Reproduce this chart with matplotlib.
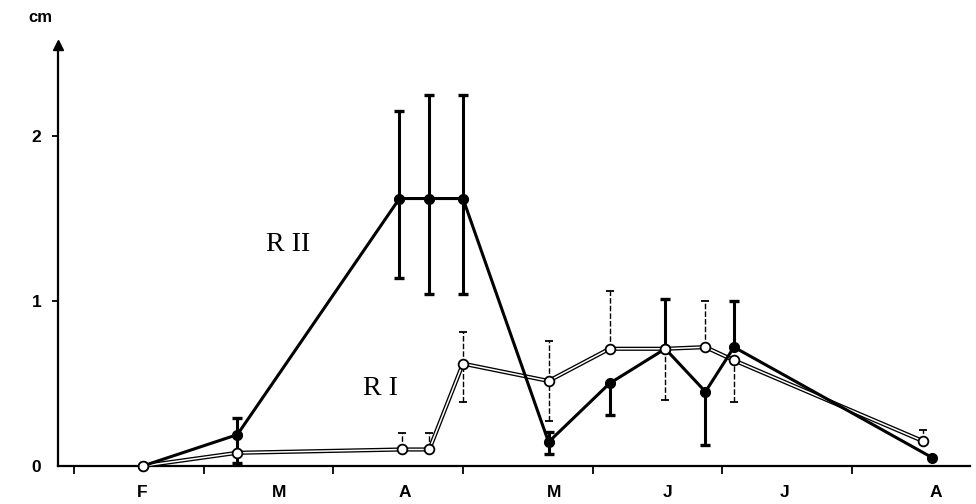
import matplotlib
matplotlib.use("Agg")
import matplotlib.pyplot as plt
import numpy as np

# Months (x in month units, 0 = start of February)
month_labels = ["F", "M", "A", "M", "J", "J", "A"]

# R II (filled circles, thick line)
x_rii = np.array([0.53, 1.26, 2.51, 2.74, 3.0, 3.66, 4.13, 4.56, 4.87, 5.09, 6.62])
y_rii = np.array([0.0, 0.19, 1.62, 1.62, 1.62, 0.145, 0.50, 0.71, 0.45, 0.72, 0.05])
rii_up = np.array([0.0, 0.10, 0.53, 0.63, 0.63, 0.06, 0.0, 0.30, 0.0, 0.28, 0.0])
rii_lo = np.array([0.0, 0.17, 0.48, 0.58, 0.58, 0.07, 0.19, 0.0, 0.32, 0.0, 0.0])

# R I (open circles, double line)
x_ri = np.array([0.53, 1.26, 2.53, 2.74, 3.0, 3.66, 4.13, 4.56, 4.87, 5.09, 6.55])
y_ri = np.array([0.0, 0.08, 0.10, 0.10, 0.62, 0.515, 0.71, 0.71, 0.72, 0.64, 0.15])
ri_up = np.array([0.0, 0.0, 0.10, 0.10, 0.19, 0.245, 0.35, 0.0, 0.28, 0.0, 0.07])
ri_lo = np.array([0.0, 0.0, 0.0, 0.0, 0.23, 0.245, 0.0, 0.31, 0.0, 0.25, 0.0])

fig = plt.figure(figsize=(9.76, 5.04), dpi=100)
ax = fig.add_axes([58/976, 38/504, 912/976, 421/504])

x_left = -0.123
x_right = 6.91
ax.set_xlim(x_left, x_right)
ax.set_ylim(0, 2.55)

for s in ("top", "right"):
    ax.spines[s].set_visible(False)
for s in ("left", "bottom"):
    ax.spines[s].set_linewidth(1.6)

# y-axis arrow head
ax.plot(0, 1, marker="^", color="black", ms=7, transform=ax.transAxes, clip_on=False)

def errs(x, y, up, lo, **kw):
    mu = up > 0
    if mu.any():
        ax.errorbar(x[mu], y[mu], yerr=[np.zeros(mu.sum()), up[mu]], fmt="none", **kw)
    ml = lo > 0
    if ml.any():
        ax.errorbar(x[ml], y[ml], yerr=[lo[ml], np.zeros(ml.sum())], fmt="none", **kw)

# Error bars for RI (thin, broken)
errs(x_ri, y_ri, ri_up, ri_lo, ecolor="black", elinewidth=1.0, capsize=3, capthick=1.3, zorder=2)
for coll in ax.collections:
    coll.set_linestyle((0, (4, 1.5)))

# Error bars for RII (thick)
errs(x_rii, y_rii, rii_up, rii_lo, ecolor="black", elinewidth=2.2, capsize=3.5, capthick=2.4, zorder=3)

# R I double line
ax.plot(x_ri, y_ri, color="black", lw=3.0, zorder=4, solid_joinstyle="round", clip_on=False)
ax.plot(x_ri, y_ri, color="white", lw=1.1, zorder=4.1, solid_joinstyle="round", clip_on=False)

# R II thick line
ax.plot(x_rii, y_rii, color="black", lw=2.2, zorder=5, marker="o", ms=7,
        markerfacecolor="black", clip_on=False)

# R I open markers
ax.plot(x_ri, y_ri, linestyle="none", marker="o", ms=7, markerfacecolor="white",
        markeredgecolor="black", markeredgewidth=1.3, zorder=6, clip_on=False)

# ticks
ax.set_xticks(np.arange(0, 7))
ax.set_xticklabels([])
ax.tick_params(axis="x", which="major", direction="out", length=6, width=1.3)
ax.set_xticks(np.arange(0.5, 7.0, 1.0)[:7] + np.array([0.03, 0.08, 0.05, 0.2, 0.08, -0.02, 0.15]), minor=True)
ax.set_xticklabels(month_labels, minor=True, fontsize=12.5, fontweight="bold", fontfamily="Liberation Sans")
ax.tick_params(axis="x", which="minor", length=0, pad=14)

ax.set_yticks([0, 1, 2])
ax.set_yticklabels(["0", "1", "2"], fontsize=12.5, fontweight="bold", fontfamily="Liberation Sans")
ax.tick_params(axis="y", direction="out", length=4, width=1.3, pad=8)
ax.yaxis.get_major_ticks()[0].tick1line.set_visible(False)

fig.text(40/976, 1 - 18/504, "cm", fontsize=12, fontweight="bold", fontfamily="Liberation Sans",
         ha="center", va="center")

ax.text(1.65, 1.34, "R II", fontsize=20, fontfamily="Liberation Serif", ha="center", va="center")
ax.text(2.36, 0.47, "R I", fontsize=20, fontfamily="Liberation Serif", ha="center", va="center")

fig.savefig("out.png", dpi=100)
